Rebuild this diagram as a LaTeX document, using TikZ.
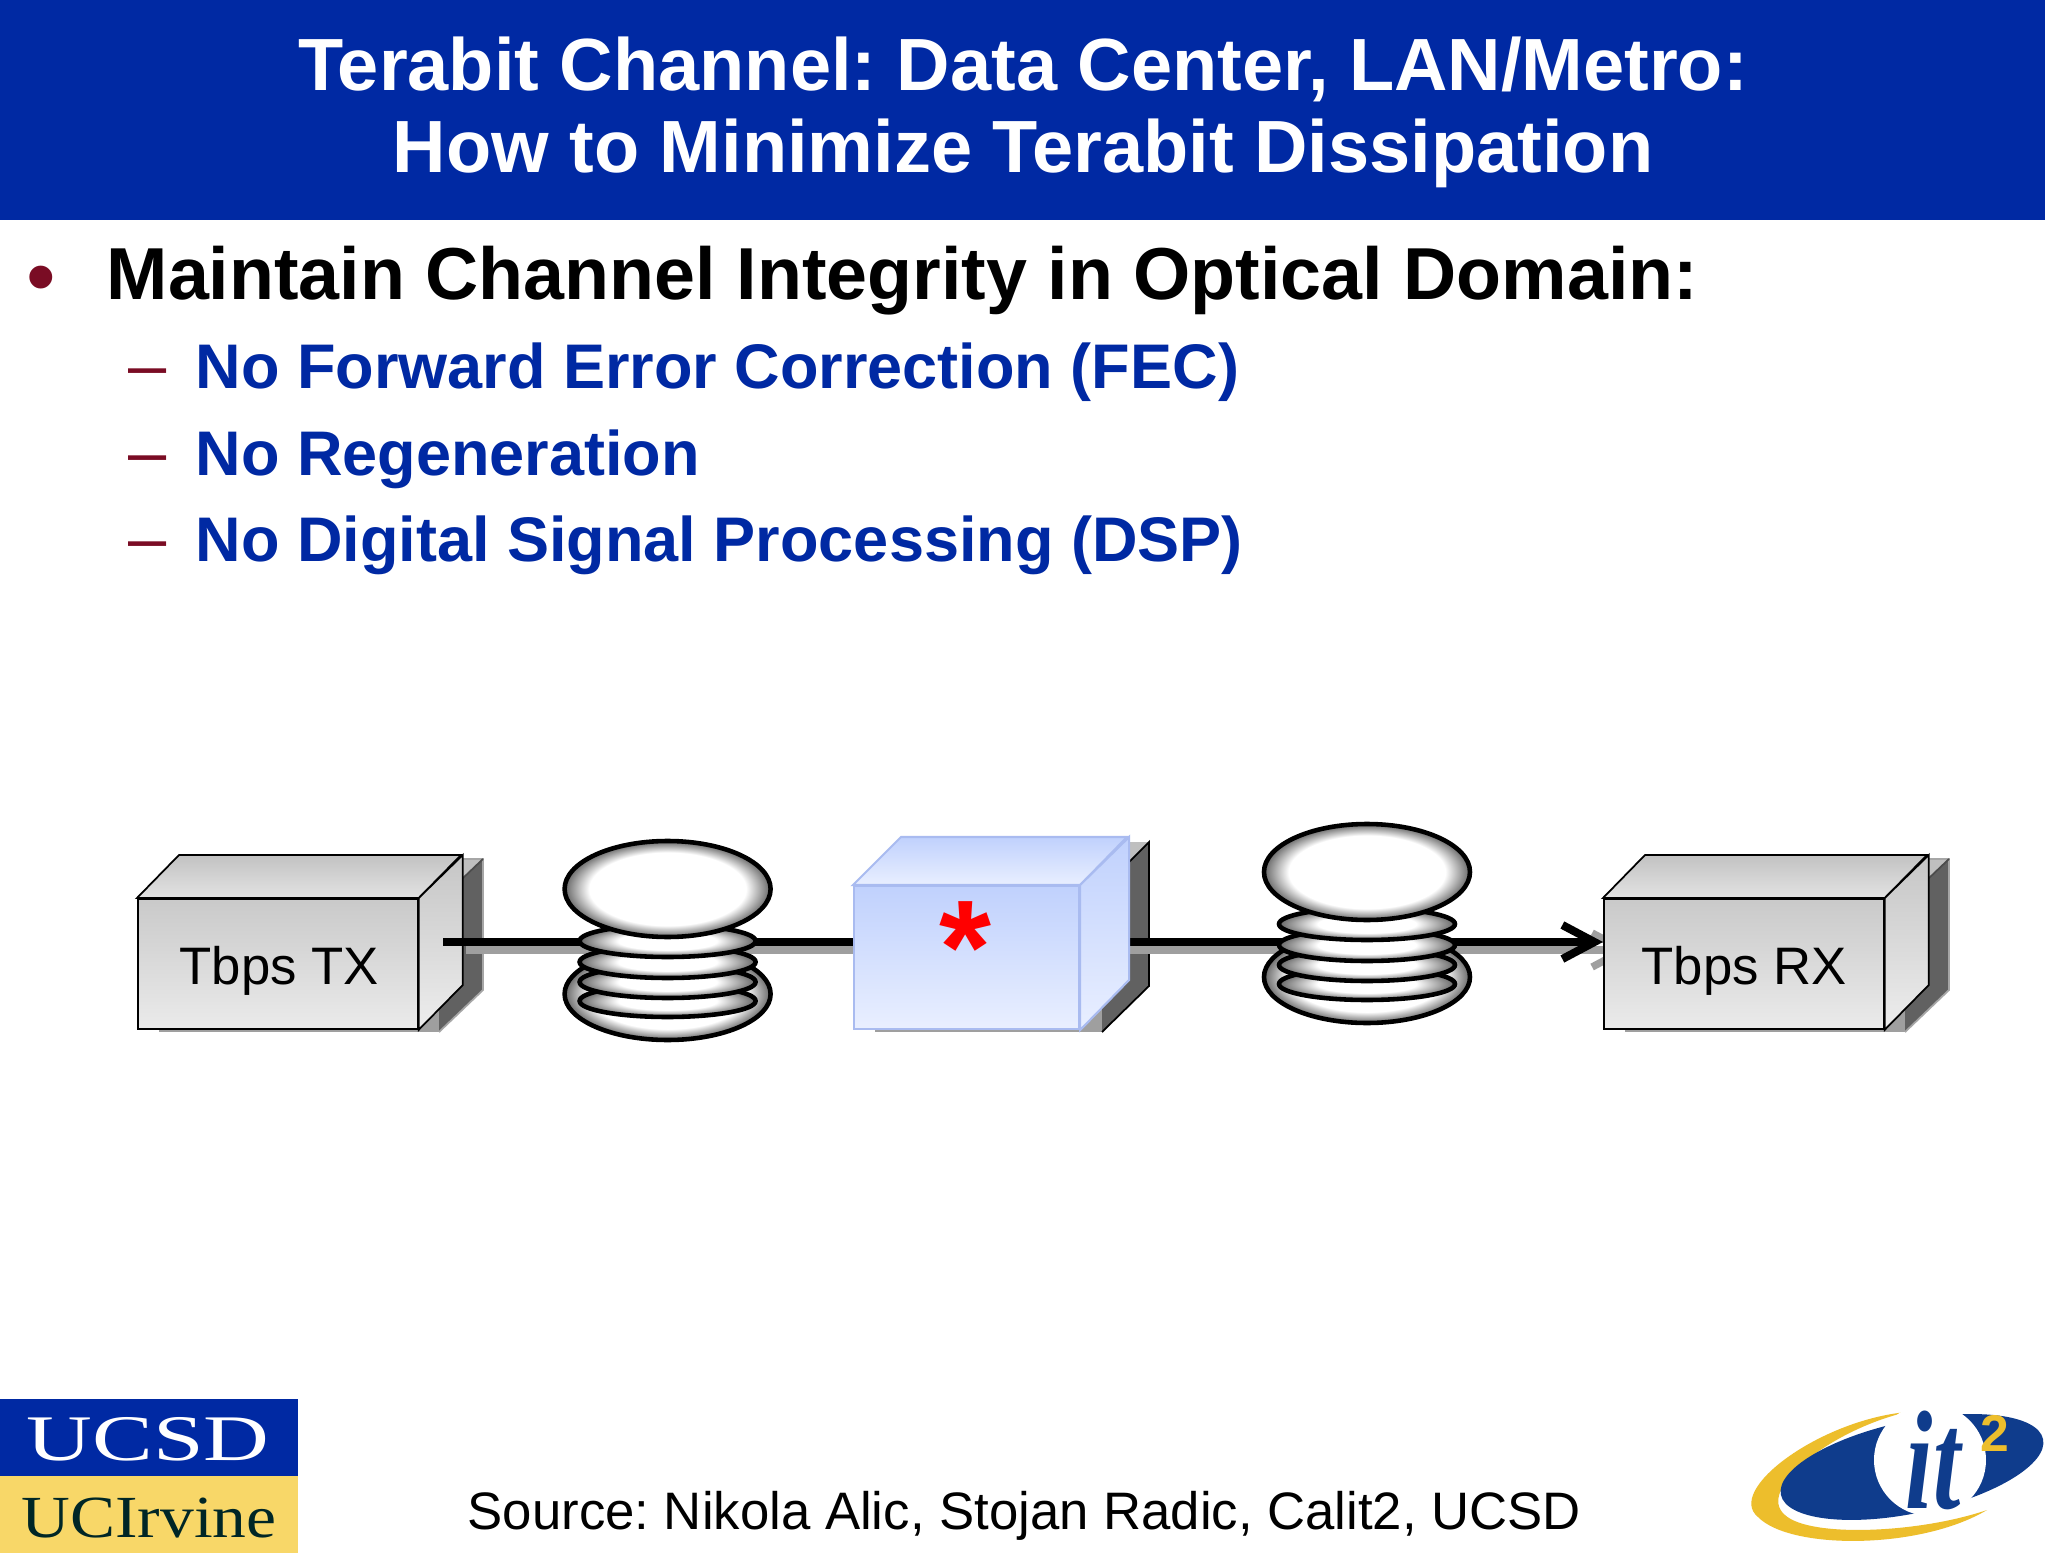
\documentclass[tikz,border=0pt]{standalone}
\usepackage{fontspec}
\setmainfont{Liberation Sans}
\newfontfamily\logoserif{Liberation Serif}
\usetikzlibrary{arrows.meta,positioning,calc,shapes.geometric}

\definecolor{slideblue}{HTML}{0029A3}
\definecolor{dashred}{HTML}{7A0C24}
\definecolor{ucgold}{HTML}{F8D768}
\definecolor{itnavy}{HTML}{0F3C8C}
\definecolor{itgold}{HTML}{EDBE2C}
\definecolor{ampedge}{HTML}{A9BBF0}
\definecolor{amptop}{HTML}{C0D1FD}
\definecolor{ampbottom}{HTML}{E9EFFF}

\pgfdeclareradialshading{coilshade}{\pgfpoint{0bp}{0bp}}{color(0bp)=(white); color(19bp)=(white); color(25bp)=(black!60); color(50bp)=(black!60)}
\pgfdeclareradialshading{ringshade}{\pgfpoint{0bp}{0bp}}{color(0bp)=(white); color(14bp)=(white); color(25bp)=(black!60); color(50bp)=(black!60)}

\tikzset{
    every node/.append style={execute at begin node=\frenchspacing},
    heading/.style={font=\bfseries\fontsize{21.05}{23.3}\selectfont, text=white, align=center},
    bullet/.style={anchor=base west, font=\bfseries\fontsize{20.95}{23}\selectfont, inner sep=0pt},
    subbullet/.style={anchor=base west, font=\bfseries\fontsize{17.93}{20}\selectfont, text=slideblue, inner sep=0pt},
    listmark/.style={anchor=base, text=dashred, inner sep=0pt},
    front/.style={draw=black, line width=0.5pt, top color=gray!42, bottom color=gray!16, minimum width=2.8cm, minimum height=1.3cm, inner sep=0pt},
    boxname/.style={anchor=base west, inner sep=0pt, font=\fontsize{15}{17}\selectfont},
    coil/.style={draw=black, line width=1.3pt, shade, shading=coilshade},
    ring/.style={draw=black, line width=1.3pt, shade, shading=ringshade},
    fibre/.style={line width=2.3pt, black},
    fibreshadow/.style={line width=2.1pt, gray!75}
}

\begin{document}
\begin{tikzpicture}
    \useasboundingbox (0,0) rectangle (20.48,-15.53);
    \fill[white] (0,0) rectangle (20.48,-15.53);

    % Heading
    \fill[slideblue] (0,0) rectangle (20.45,-2.2);
    \node[heading] (title) at (10.23,-1.12) {Terabit Channel: Data Center, LAN/Metro:\\How to Minimize Terabit Dissipation};

    % Text
    \node[listmark, font=\fontsize{24}{26}\selectfont] (dotA) at (0.41,-3.05) {•};
    \node[bullet] (lineA) at (1.06,-3.0) {Maintain Channel Integrity in Optical Domain:};
    \foreach \y/\nm/\txt in {3.88/lineB/No Forward Error Correction (FEC), 4.75/lineC/No Regeneration, 5.61/lineD/No Digital Signal Processing (DSP)} {
        \node[listmark, font=\fontsize{19.5}{22}\selectfont] at (1.48,-\y) {--};
        \node[subbullet] (\nm) at (1.95,-\y) {\txt};
    }

    % Shadows of the boxes
    \foreach \x in {0, 14.66} {
        \begin{scope}[xshift=\x cm]
            \fill[gray!75] (1.59,-10.32) rectangle (4.39,-10.0);
            \fill[black!62] (4.39,-10.32) -- (4.83,-9.9) -- (4.83,-8.59) -- (4.61,-8.8) -- (4.39,-8.8) -- cycle;
            \fill[gray!50] (4.5,-8.59) -- (4.83,-8.59) -- (4.61,-8.8) -- (4.5,-8.8) -- cycle;
            \draw[gray!70, line width=0.5pt] (4.39,-10.32) -- (4.83,-9.9) -- (4.83,-8.59) -- (4.5,-8.59);
            \draw[black!70, line width=0.5pt] (4.61,-8.8) -- (4.83,-8.59);
        \end{scope}
    }
    \fill[gray!75] (8.75,-10.32) rectangle (11.02,-10.0);
    \fill[black!62] (11.02,-10.32) -- (11.49,-9.86) -- (11.49,-8.42) -- (11.27,-8.64) -- (11.02,-8.85) -- cycle;
    \fill[gray!50] (11.2,-8.42) -- (11.49,-8.42) -- (11.27,-8.64) -- (11.2,-8.64) -- cycle;
    \draw[black, line width=0.5pt] (11.02,-10.32) -- (11.49,-9.86) -- (11.49,-8.42) -- (11.27,-8.64);

    % Shadow of the fibre
    \coordinate (txout) at (4.43,-9.42);
    \coordinate (txshadow) at (4.66,-9.5);
    \coordinate (ampshadow) at (11.27,-9.5);
    \draw[fibreshadow] (txshadow) -- (8.6,-9.5);
    \draw[fibreshadow, -{Straight Barb[length=3.2mm, width=3.4mm]}] (ampshadow) -- (16.32,-9.5);

    % TX and RX
    \node[front, anchor=north west] (txbox) at (1.37,-8.98) {};
    \node[front, anchor=north west] (rxbox) at (16.03,-8.98) {};
    \foreach \b in {txbox, rxbox} {
        \draw[line width=0.5pt, top color=gray!48, bottom color=gray!22] (\b.north west) -- ++(0.42,0.43) -- ++(2.82,0) -- (\b.north east) -- cycle;
        \draw[line width=0.5pt, top color=gray!45, bottom color=gray!14] (\b.north east) -- ++(0.44,0.43) -- ++(0,-1.3) -- (\b.south east) -- cycle;
    }
    \node[boxname] (txname) at (1.79,-9.84) {Tbps TX};
    \node[boxname] (rxname) at (16.41,-9.84) {Tbps RX};

    % Fibre
    \draw[fibre] (txout) -- (8.6,-9.42);
    \coordinate (ampout) at (11.2,-9.42);
    \draw[fibre, -{Straight Barb[length=3.2mm, width=3.4mm]}] (ampout) -- (txout -| rxbox.west);

    % Amplifier box
    \node[draw=ampedge, line width=0.6pt, top color=amptop, bottom color=ampbottom, minimum width=2.25cm, minimum height=1.43cm, inner sep=0pt, anchor=north west] (ampbox) at (8.53,-8.85) {};
    \draw[draw=ampedge, line width=0.6pt, top color=amptop, bottom color=ampbottom] (ampbox.north west) -- ++(0.48,0.48) -- ++(2.26,0) -- (ampbox.north east) -- cycle;
    \draw[draw=ampedge, line width=0.6pt, top color=amptop, bottom color=ampbottom] (ampbox.north east) -- ++(0.49,0.48) -- ++(0,-1.43) -- (ampbox.south east) -- cycle;
    \node[text=red, inner sep=0pt, font=\bfseries\fontsize{38}{38}\selectfont] (star) at (9.65,-9.48) {*};

    % Coils
    \foreach \nm/\x/\y in {coilA/6.676/-8.89, coilB/13.67/-8.72} {
        \begin{scope}[shift={(\x,\y)}]
            \draw[coil] (0,-1.05) ellipse (1.03 and 0.46);
            \foreach \d in {1.12, 0.93, 0.73, 0.52} {
                \draw[ring] (0,-\d) ellipse (0.88 and 0.16);
            }
            \node[coil, ellipse, minimum width=2.06cm, minimum height=0.96cm, inner sep=0pt] (\nm) at (0,0) {};
        \end{scope}
    }

    % Bottom line
    \node[anchor=base west, inner sep=0pt, font=\fontsize{15.0}{18}\selectfont] (source) at (4.67,-15.29) {Source: Nikola Alic, Stojan Radic, Calit2, UCSD};

    % UC logo
    \fill[slideblue] (0,-13.99) rectangle (2.98,-14.76);
    \fill[ucgold] (0,-14.76) rectangle (2.98,-15.53);
    \node[anchor=base, text=white, inner sep=0pt, xscale=1.4, font=\logoserif\fontsize{18.5}{18}\selectfont] (ucsd) at (1.48,-14.6) {UCSD};
    \node[anchor=base, text=black!70!teal, inner sep=0pt, xscale=1.13, font=\logoserif\fontsize{17}{17}\selectfont] (uci) at (1.49,-15.37) {UCIrvine};

    % it2 logo
    \fill[itgold] (19.07,-14.12) .. controls (18.2,-14.2) and (17.25,-14.9) .. (17.58,-15.17) .. controls (17.9,-15.5) and (19.2,-15.5) .. (19.87,-15.1) .. controls (19.2,-15.33) and (18.1,-15.38) .. (17.85,-15.15) .. controls (17.55,-14.9) and (18.3,-14.3) .. (19.07,-14.12) -- cycle;
    \fill[itnavy, rotate around={12:(19.12,-14.67)}] (19.12,-14.67) ellipse (1.34 and 0.46);
    \fill[white] (19.3,-14.6) circle (0.56);
    \node[text=itnavy, inner sep=0pt, xscale=0.7, font=\logoserif\bfseries\itshape\fontsize{40}{40}\selectfont] (itname) at (19.33,-14.6) {it};
    \node[text=itgold, inner sep=0pt, font=\bfseries\fontsize{14.7}{15}\selectfont] (itsup) at (19.95,-14.33) {2};
\end{tikzpicture}
\end{document}
